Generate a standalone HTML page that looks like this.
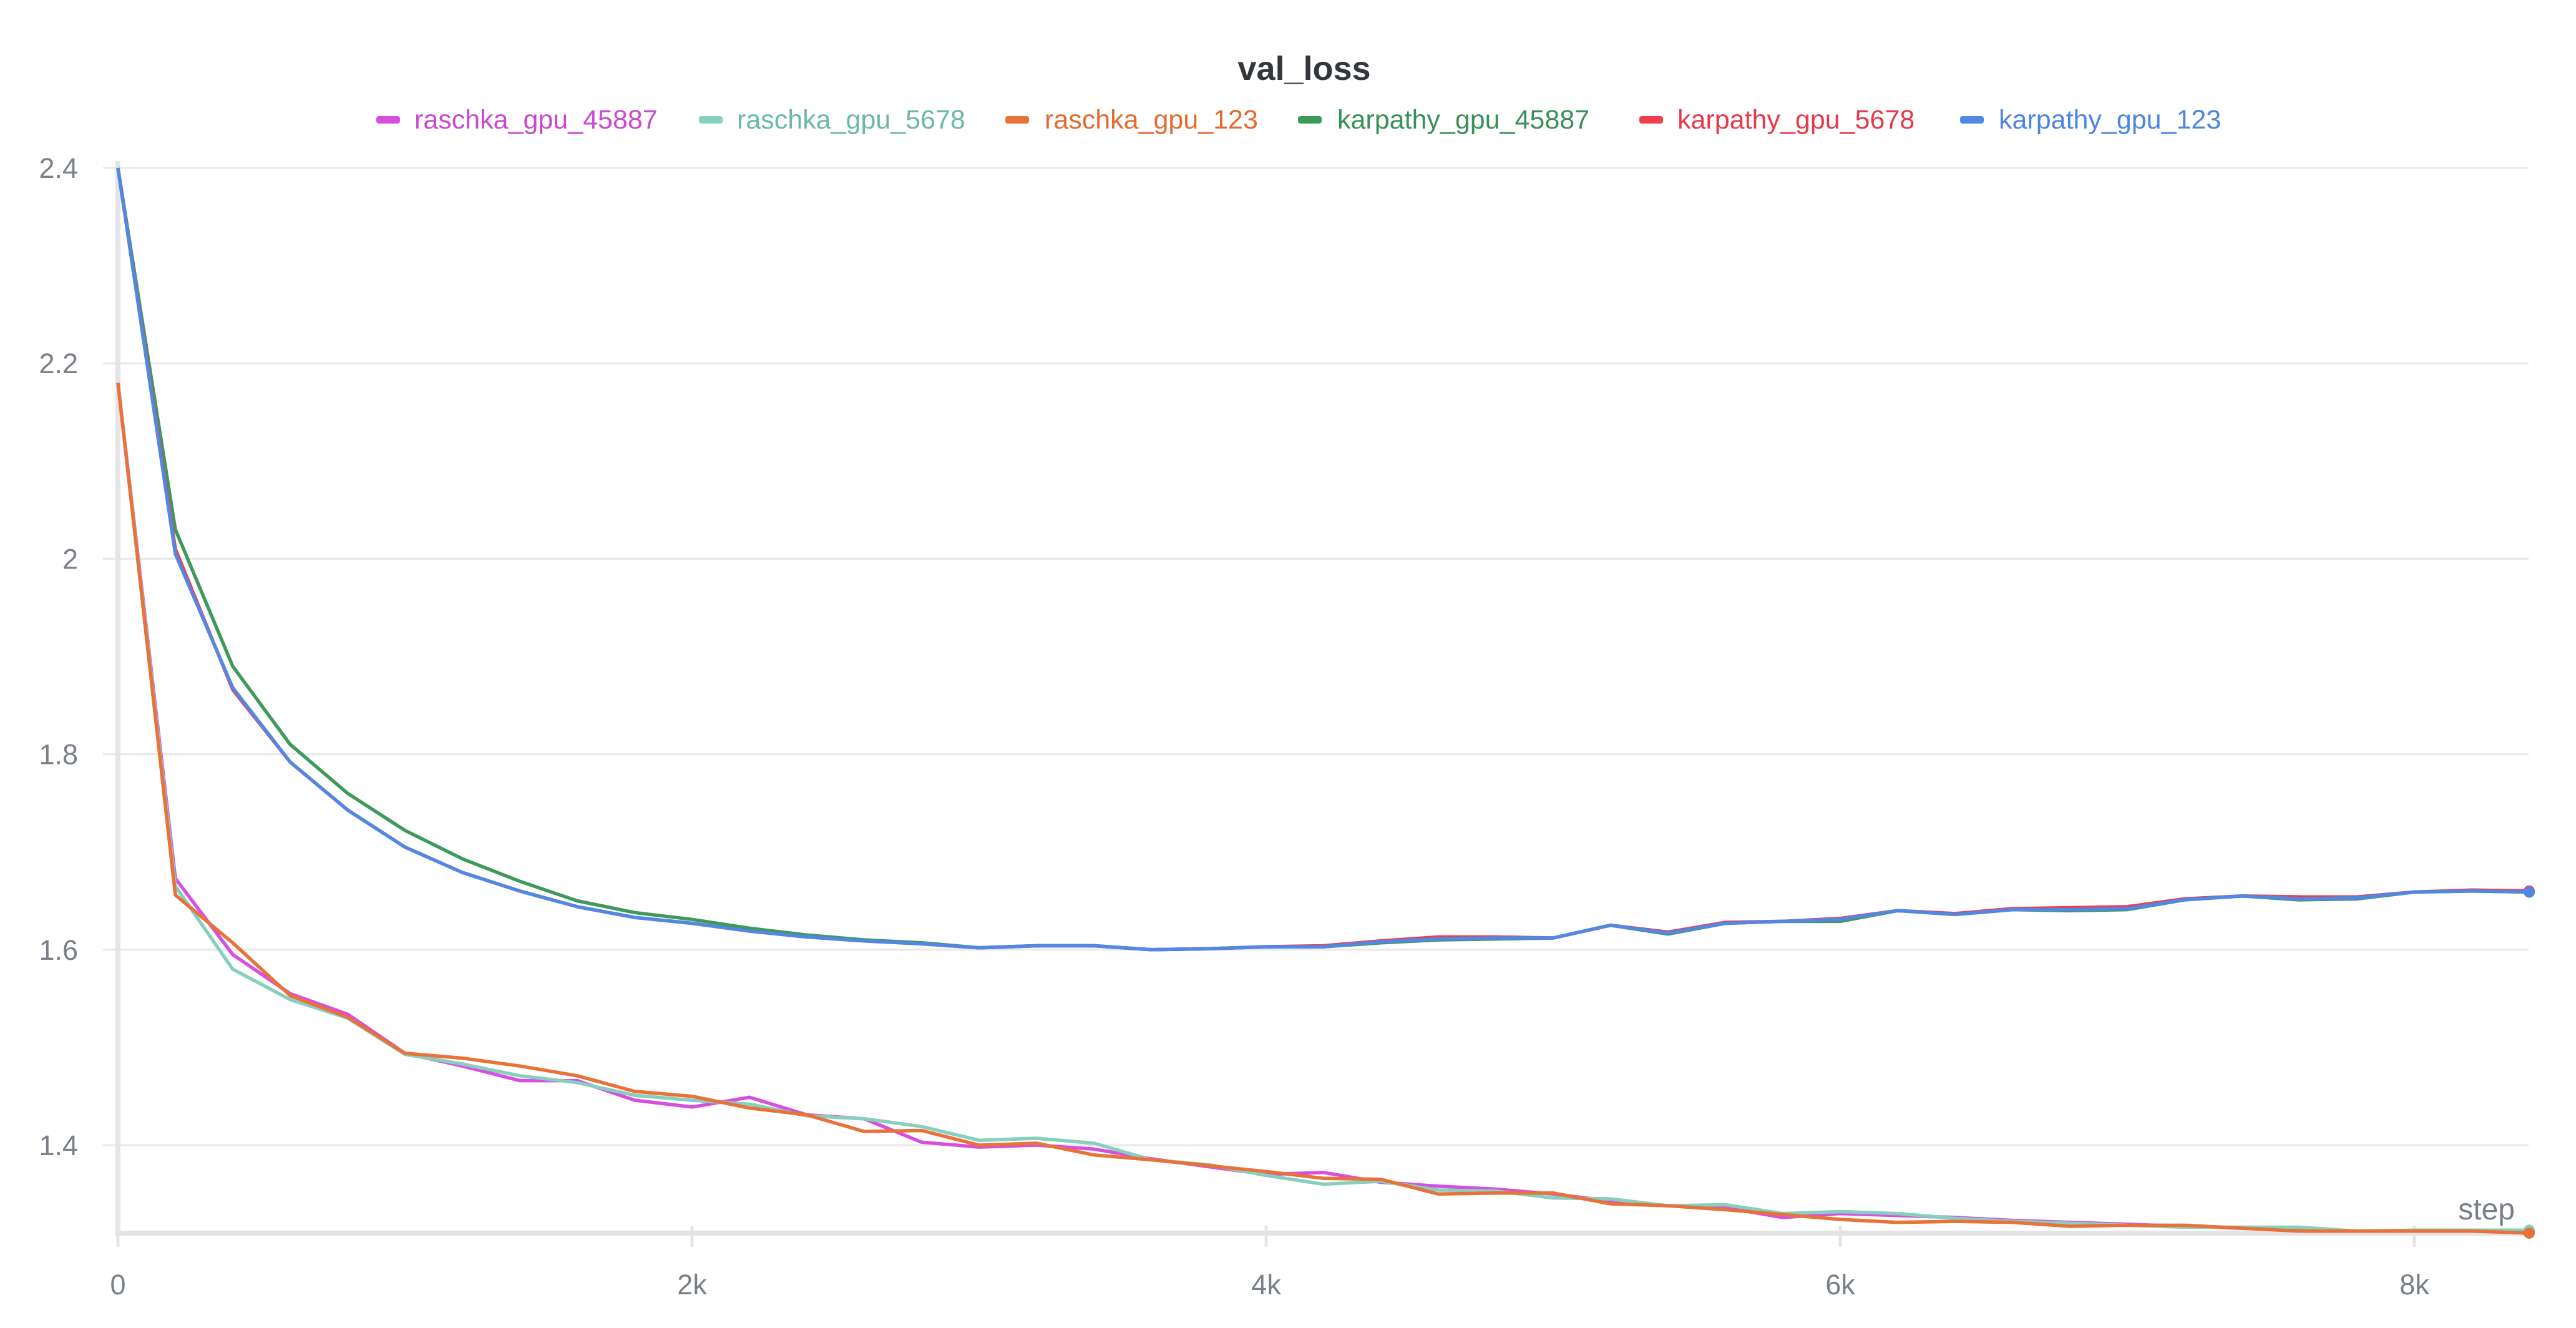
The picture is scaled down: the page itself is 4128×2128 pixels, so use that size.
<!DOCTYPE html>
<html><head><meta charset="utf-8">
<style>
html,body{margin:0;padding:0;background:#fff;}
svg{display:block;font-family:"Liberation Sans",sans-serif;}
</style></head>
<body>
<svg id="chart" width="4128" height="2128" viewBox="0 0 4128 2128" xmlns="http://www.w3.org/2000/svg">
<text x="2090" y="128" text-anchor="middle" font-size="54" font-weight="bold" fill="#33363b">val_loss</text>
<g id="legend"></g>
<g id="grid"></g>
<g id="axes"></g>
<g id="series"></g>
<text x="4030" y="1954" text-anchor="end" font-size="48" fill="#7a7f88">step</text>
</svg>
<script>
const steps = [0,200,400,600,800,1000,1200,1400,1600,1800,2000,2200,2400,2600,2800,3000,3200,3400,3600,3800,4000,4200,4400,4600,4800,5000,5200,5400,5600,5800,6000,6200,6400,6600,6800,7000,7200,7400,7600,7800,8000,8200,8400];
const raschka45887 = [2.18,1.673,1.595,1.555,1.534,1.494,1.481,1.466,1.466,1.446,1.439,1.449,1.431,1.427,1.403,1.398,1.400,1.396,1.386,1.378,1.370,1.372,1.362,1.358,1.355,1.350,1.343,1.338,1.336,1.326,1.330,1.328,1.326,1.323,1.321,1.319,1.317,1.315,1.313,1.312,1.312,1.312,1.312];
const raschka5678 = [2.18,1.665,1.580,1.549,1.530,1.493,1.483,1.471,1.464,1.451,1.446,1.442,1.430,1.427,1.419,1.405,1.407,1.402,1.385,1.380,1.369,1.360,1.363,1.354,1.353,1.346,1.345,1.338,1.339,1.330,1.332,1.330,1.325,1.322,1.320,1.318,1.316,1.316,1.316,1.312,1.313,1.313,1.313];
const raschka123 = [2.18,1.656,1.607,1.553,1.531,1.494,1.489,1.481,1.471,1.455,1.450,1.438,1.431,1.414,1.415,1.400,1.402,1.390,1.385,1.379,1.373,1.366,1.365,1.350,1.351,1.351,1.340,1.338,1.334,1.329,1.324,1.321,1.322,1.321,1.317,1.318,1.318,1.315,1.312,1.312,1.312,1.312,1.310];
const karpathy45887 = [2.40,2.030,1.890,1.810,1.760,1.722,1.693,1.670,1.650,1.638,1.631,1.622,1.615,1.610,1.607,1.602,1.604,1.604,1.600,1.601,1.603,1.603,1.607,1.610,1.611,1.612,1.625,1.616,1.627,1.629,1.629,1.640,1.636,1.641,1.640,1.641,1.651,1.655,1.651,1.652,1.659,1.660,1.659];
const karpathy5678 = [2.40,2.010,1.866,1.792,1.743,1.705,1.679,1.660,1.644,1.633,1.627,1.619,1.613,1.609,1.606,1.602,1.604,1.604,1.600,1.601,1.603,1.604,1.609,1.613,1.613,1.612,1.625,1.618,1.628,1.629,1.632,1.640,1.637,1.642,1.643,1.644,1.652,1.655,1.654,1.654,1.659,1.661,1.660];
const karpathy123 = [2.40,2.005,1.868,1.792,1.743,1.705,1.679,1.660,1.644,1.633,1.627,1.619,1.613,1.609,1.606,1.602,1.604,1.604,1.600,1.601,1.603,1.603,1.608,1.611,1.612,1.612,1.625,1.617,1.627,1.629,1.631,1.640,1.636,1.641,1.641,1.642,1.651,1.655,1.652,1.653,1.659,1.660,1.659];
const seriesNames = ["raschka_gpu_45887","raschka_gpu_5678","raschka_gpu_123","karpathy_gpu_45887","karpathy_gpu_5678","karpathy_gpu_123"];
const yTicks = [1.4,1.6,1.8,2.0,2.2,2.4];
const yTickLabels = ["1.4","1.6","1.8","2","2.2","2.4"];
const xTicks = [0,2000,4000,6000,8000];
const xTickLabels = ["0","2k","4k","6k","8k"];

const NS="http://www.w3.org/2000/svg";
const X0=189, XPER=920/2000, YREF=1835, YPER=1566/1.0;
function xs(v){return X0+v*XPER;}
function ys(v){return YREF-(v-1.4)*YPER;}
function mk(tag,attrs,parent){const e=document.createElementNS(NS,tag);for(const k in attrs)e.setAttribute(k,attrs[k]);parent.appendChild(e);return e;}

const colors=["#d84fe0","#87cfbf","#e87238","#3e9a5b","#ef3e4e","#5088e4"];
const textColors=["#c94ad0","#6bb9a6","#e36b2f","#3a9156","#e8394a","#4e86df"];
const seriesData=[raschka45887,raschka5678,raschka123,karpathy45887,karpathy5678,karpathy123];

const grid=document.getElementById('grid');
yTicks.forEach((t,i)=>{
  const l=mk('line',{x1:165,x2:4052,y1:ys(t),y2:ys(t),stroke:'#e8e8e8','stroke-width':3},grid);
  
  
  const tx=mk('text',{x:125,y:ys(t)+16,'text-anchor':'end','font-size':45,fill:'#7a7f88'},grid);
  tx.textContent=yTickLabels[i];
  
  
});
const axes=document.getElementById('axes');
const xmin=1.31;
const ya=mk('line',{x1:X0,x2:X0,y1:258,y2:ys(xmin)+4,stroke:'#e4e4e6','stroke-width':8},axes);


const xa=mk('line',{x1:X0-4,x2:xs(8400),y1:ys(xmin),y2:ys(xmin),stroke:'#e4e4e6','stroke-width':8},axes);


xTicks.forEach((t,i)=>{
  const l=mk('line',{x1:xs(t),x2:xs(t),y1:ys(xmin)-12,y2:ys(xmin)+22,stroke:'#e4e4e6','stroke-width':5},axes);
  
  
  const tx=mk('text',{x:xs(t),y:2074,'text-anchor':'middle','font-size':45,fill:'#7a7f88'},axes);
  tx.textContent=xTickLabels[i];
  
  
});

const sg=document.getElementById('series');
seriesData.forEach((d,si)=>{
  const pts=d.map((v,i)=>xs(steps[i]).toFixed(1)+','+ys(v).toFixed(1)).join(' ');
  const p=mk('polyline',{points:pts,fill:'none',stroke:colors[si],'stroke-width':5.5,'stroke-linejoin':'round'},sg);
  
  
  const n=d.length-1;
  const c=mk('circle',{cx:xs(steps[n]),cy:ys(d[n]),r:9,fill:colors[si]},sg);
  
  
});

const lg=document.getElementById('legend');
const legX=[[603,664],[1120,1181],[1611,1674],[2080,2143],[2627,2688],[3141,3203]];
seriesNames.forEach((n,i)=>{
  const r=mk('rect',{x:legX[i][0],y:186,width:38,height:12,rx:4,fill:colors[i]},lg);
  
  
  const t=mk('text',{x:legX[i][1],y:206,'font-size':43,fill:textColors[i]},lg);
  t.textContent=n;
  
  
});
</script>
</body></html>
